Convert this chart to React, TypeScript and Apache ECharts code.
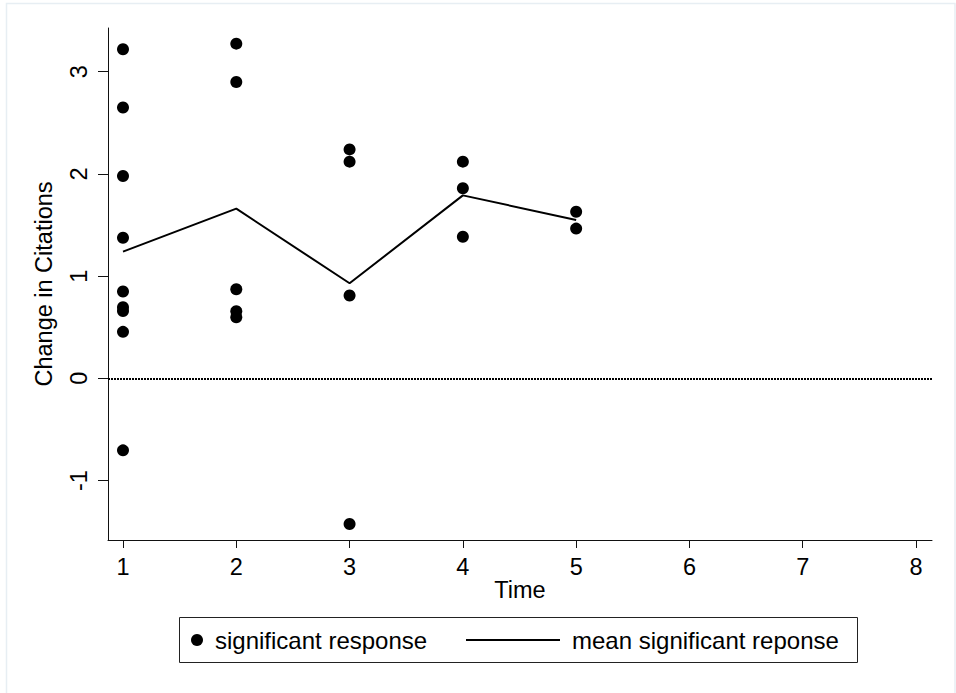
import React, { useEffect, useRef } from "react";
import * as echarts from "echarts";

// Observations per time point (change in citations)
const timePoints = [1, 2, 3, 4, 5];
const responsesByTime: number[][] = [
  [3.22, 2.65, 1.98, 1.375, 0.85, 0.695, 0.658, 0.455, -0.705],
  [3.275, 2.9, 0.872, 0.657, 0.598],
  [2.24, 2.12, 0.81, -1.425],
  [2.12, 1.86, 1.385],
  [1.63, 1.465],
];
// Mean of the significant responses at each time point
const meanResponse = [1.24, 1.66, 0.93, 1.79, 1.55];

const xTickValues = [1, 2, 3, 4, 5, 6, 7, 8];
const yTickValues = [-1, 0, 1, 2, 3];

const FONT = "'Liberation Sans', Arial, Helvetica, sans-serif";

export default function App() {
  const ref = useRef<HTMLDivElement>(null);

  useEffect(() => {
    document.body.style.margin = "0";
    if (!ref.current) return;
    const chart = echarts.init(ref.current, undefined, { renderer: "svg" });

    const scatterData: number[][] = [];
    responsesByTime.forEach((vals, i) => {
      vals.forEach((v) => scatterData.push([timePoints[i], v]));
    });
    const meanData = timePoints.map((t, i) => [t, meanResponse[i]]);

    chart.setOption({
      animation: false,
      backgroundColor: "#ffffff",
      grid: { left: 108, right: 24, top: 28, bottom: 153, containLabel: false },
      xAxis: {
        type: "value",
        min: 0.8676,
        max: 8.141,
        name: "Time",
        nameLocation: "middle",
        nameGap: 38,
        nameMoveOverlap: false,
        nameTextStyle: { fontFamily: FONT, fontSize: 23.5, color: "#000" },
        axisLine: { show: true, onZero: false, lineStyle: { color: "#111", width: 1 } },
        axisTick: {
          show: true,
          length: 8,
          customValues: xTickValues,
          lineStyle: { color: "#111", width: 1 },
        },
        axisLabel: {
          customValues: xTickValues,
          margin: 15,
          fontFamily: FONT,
          fontSize: 23.5,
          color: "#000",
        },
        splitLine: { show: false },
      },
      yAxis: {
        type: "value",
        min: -1.582,
        max: 3.428,
        name: "Change in Citations",
        nameLocation: "middle",
        nameGap: 52,
        nameTextStyle: { fontFamily: FONT, fontSize: 23.5, color: "#000" },
        axisLine: { show: true, onZero: false, lineStyle: { color: "#111", width: 1 } },
        axisTick: {
          show: true,
          length: 10,
          customValues: yTickValues,
          lineStyle: { color: "#111", width: 1 },
        },
        axisLabel: {
          customValues: yTickValues,
          rotate: 90,
          margin: 17,
          fontFamily: FONT,
          fontSize: 23.5,
          color: "#000",
        },
        splitLine: { show: false },
      },
      legend: [
        {
          data: [{ name: "significant response", icon: "circle" }],
          left: 191,
          top: 628,
          padding: 0,
          itemWidth: 12,
          itemHeight: 12,
          selectedMode: false,
          itemStyle: { opacity: 1 },
          textStyle: {
            fontFamily: FONT,
            fontSize: 24,
            color: "#000",
            padding: [0, 0, 0, 7],
          },
        },
        {
          data: [
            {
              name: "mean significant reponse",
              icon: "path://M0,0L94,0L94,2L0,2Z",
            },
          ],
          left: 466,
          top: 628,
          padding: 0,
          itemWidth: 94,
          itemHeight: 12,
          selectedMode: false,
          textStyle: {
            fontFamily: FONT,
            fontSize: 24,
            color: "#000",
            padding: [0, 0, 0, 7],
          },
        },
      ],
      graphic: [
        {
          type: "rect",
          silent: true,
          shape: { x: 6.5, y: 3.5, width: 948.5, height: 700 },
          style: { fill: "none", stroke: "#e7eef3", lineWidth: 1.5 },
        },
        {
          type: "rect",
          silent: true,
          shape: { x: 179.5, y: 617.5, width: 678, height: 45 },
          style: { fill: "none", stroke: "#222", lineWidth: 1 },
        },
      ],
      series: [
        {
          name: "significant response",
          type: "scatter",
          data: scatterData,
          symbol: "circle",
          symbolSize: 12,
          itemStyle: { color: "#000", opacity: 1 },
          z: 3,
          markLine: {
            silent: true,
            symbol: "none",
            label: { show: false },
            lineStyle: { color: "#000", width: 2, type: [2, 1] },
            data: [{ yAxis: 0 }],
          },
        },
        {
          name: "mean significant reponse",
          type: "line",
          data: meanData,
          symbol: "none",
          showSymbol: false,
          lineStyle: { color: "#000", width: 2 },
          itemStyle: { color: "#000" },
          z: 2,
        },
      ],
    });

    return () => chart.dispose();
  }, []);

  return <div ref={ref} style={{ width: 956, height: 693 }} />;
}
